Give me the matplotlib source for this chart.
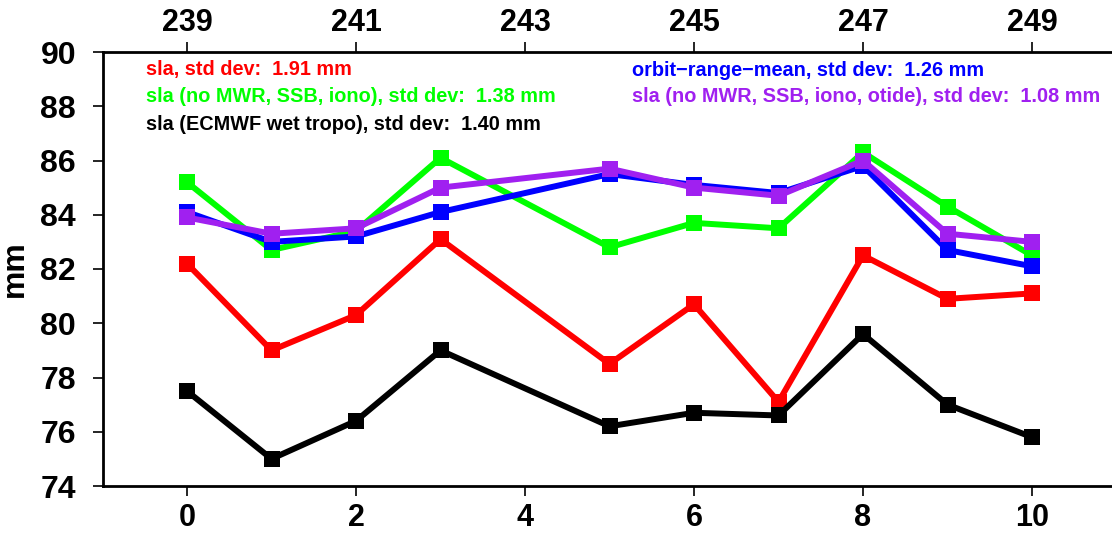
import numpy as np
import matplotlib as mpl
mpl.use('Agg')
import matplotlib.pyplot as plt

# pass index along the bottom, cycle number along the top
passes = [0, 1, 2, 3, 5, 6, 7, 8, 9, 10]
cycle_ticks = [0, 2, 4, 6, 8, 10]
cycle_labels = ['239', '241', '243', '245', '247', '249']

sla = [82.2, 79.0, 80.3, 83.1, 78.5, 80.7, 77.1, 82.5, 80.9, 81.1]
sla_ecmwf = [77.5, 75.0, 76.4, 79.0, 76.2, 76.7, 76.6, 79.6, 77.0, 75.8]
sla_no_mwr = [85.2, 82.7, 83.4, 86.1, 82.8, 83.7, 83.5, 86.3, 84.3, 82.5]
orbit_range = [84.1, 83.0, 83.2, 84.1, 85.5, 85.1, 84.8, 85.8, 82.7, 82.1]
sla_no_otide = [83.9, 83.3, 83.5, 85.0, 85.7, 85.0, 84.7, 86.0, 83.3, 83.0]

series = [
    (sla, 'red', 'sla, std dev:  1.91 mm'),
    (sla_ecmwf, 'black', 'sla (ECMWF wet tropo), std dev:  1.40 mm'),
    (sla_no_mwr, '#00ff00', 'sla (no MWR, SSB, iono), std dev:  1.38 mm'),
    (orbit_range, 'blue', 'orbit\u2212range\u2212mean, std dev:  1.26 mm'),
    (sla_no_otide, '#a020f0', 'sla (no MWR, SSB, iono, otide), std dev:  1.08 mm'),
]

W, H = 1112, 533
fig = plt.figure(figsize=(W / 100., H / 100.), dpi=100)
# axes box runs off the right edge of the page
ax = fig.add_axes([102.5 / W, 1 - 486. / H, 1014. / W, 434. / H])

for vals, col, lab in series:
    ax.plot(passes, vals, color=col, lw=4.3, marker='s', ms=11,
            markeredgewidth=0, solid_joinstyle='miter', clip_on=False)

ax.set_xlim(-1, 11)
ax.set_ylim(74, 90)
ax.set_xticks(cycle_ticks)
ax.set_yticks(np.arange(74, 91, 2))

bold = ['Liberation Sans', 'DejaVu Sans']

for s in ['left', 'bottom', 'top']:
    ax.spines[s].set_linewidth(2)
ax.spines['right'].set_visible(False)

ax.tick_params(axis='both', direction='out', length=7, width=1.2)
ax.tick_params(axis='x', pad=5)
ax.tick_params(axis='y', pad=12)
for t in ax.get_xticklabels():
    t.set_fontfamily(bold)
    t.set_fontweight('bold')
    t.set_fontsize(22)
for t in ax.get_yticklabels():
    t.set_fontfamily(bold)
    t.set_fontweight('bold')
    t.set_fontsize(23)

top = ax.secondary_xaxis('top')
top.set_xticks(cycle_ticks)
top.set_xticklabels(cycle_labels, family=bold, fontweight='bold', fontsize=22)
top.tick_params(direction='out', length=7, width=1.2, pad=3)
top.spines['top'].set_visible(False)

ax.set_ylabel('mm', family=bold, fontweight='bold', fontsize=23)
ax.yaxis.set_label_coords(-0.072, 0.5)

# std dev notes, two columns
left_col = [series[0], series[2], series[1]]
right_col = [series[3], series[4]]
for i, (vals, col, lab) in enumerate(left_col):
    fig.text(146. / W, 1 - (70. + 27 * i) / H, lab, color=col, family=bold,
             fontweight='bold', fontsize=14.3, va='center', ha='left')
for i, (vals, col, lab) in enumerate(right_col):
    fig.text(632. / W, 1 - (70. + 27 * i) / H, lab, color=col, family=bold,
             fontweight='bold', fontsize=14.3, va='center', ha='left')

plt.savefig('out.png', dpi=100)
